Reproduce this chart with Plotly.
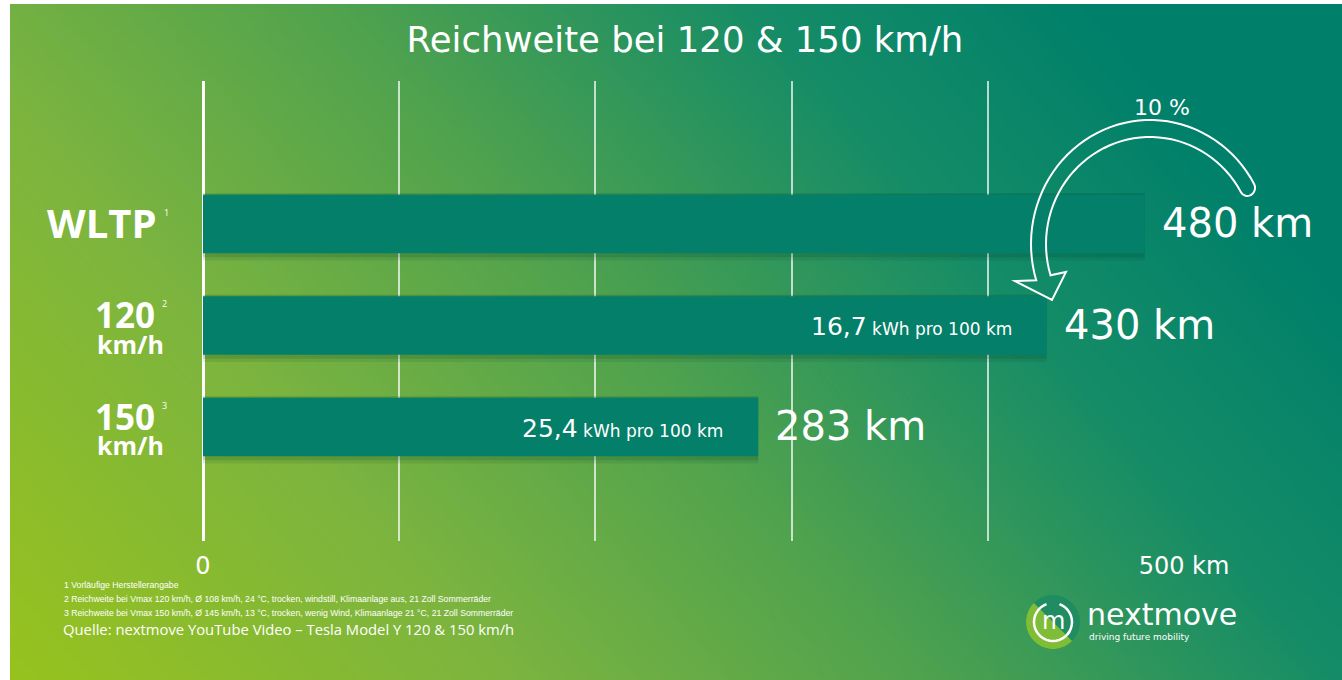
import math, zlib, struct, base64
import plotly.graph_objects as go

# ---------------- data ----------------
categories = ["WLTP", "120", "150"]
range_km = [480, 430, 283]
consumption = [None, "16,7", "25,4"]
cat_sup = ["1", "2", "3"]
cat_sub = ["", "km/h", "km/h"]
x_ticks = [0, 500]
x_ticktext = ["0", "500 km"]
x_grid = [100, 200, 300, 400]
title_text = "Reichweite bei 120 &amp; 150 km/h"
drop_label = "10 %"
footnotes = [
    "1 Vorläufige Herstellerangabe",
    "2 Reichweite bei Vmax 120 km/h, Ø 108 km/h, 24 °C, trocken, windstill, Klimaanlage aus, 21 Zoll Sommerräder",
    "3 Reichweite bei Vmax 150 km/h, Ø 145 km/h, 13 °C, trocken, wenig Wind, Klimaanlage 21 °C, 21 Zoll Sommerräder",
]
source_text = "Quelle: nextmove YouTube Video – Tesla Model Y 120 &amp; 150 km/h"

W, H = 1342, 680
FONT = "DejaVu Sans"
BAR = "#047f69"
GRID = "rgba(255,255,255,0.7)"


def px(x):
    return x / W


def py(y):
    return 1 - y / H


# ---------------- background gradient PNG ----------------
stops = [(0.0, (0x97, 0xc2, 0x1e)), (0.3, (0x7c, 0xb4, 0x3f)), (0.55, (0x4f, 0xa2, 0x4e)),
         (0.8, (0x15, 0x8c, 0x67)), (1.0, (0x00, 0x80, 0x6a))]


def grad(t):
    t = max(0.0, min(1.0, t))
    for (t0, c0), (t1, c1) in zip(stops[:-1], stops[1:]):
        if t <= t1:
            f = (t - t0) / (t1 - t0)
            return tuple(int(round(a + (b - a) * f)) for a, b in zip(c0, c1))
    return stops[-1][1]


gw, gh = 334, 170
rows = []
for j in range(gh):
    row = bytearray([0])
    for i in range(gw):
        t = 0.8 * (i / (gw - 1)) + 0.35 * (1 - j / (gh - 1))
        row.extend(grad(t))
    rows.append(bytes(row))


def chunk(tag, data):
    c = struct.pack(">I", len(data)) + tag + data
    return c + struct.pack(">I", zlib.crc32(tag + data) & 0xffffffff)


png = (b"\x89PNG\r\n\x1a\n" + chunk(b"IHDR", struct.pack(">IIBBBBB", gw, gh, 8, 2, 0, 0, 0))
       + chunk(b"IDAT", zlib.compress(b"".join(rows), 9)) + chunk(b"IEND", b""))
bg_uri = "data:image/png;base64," + base64.b64encode(png).decode()

# ---------------- figure ----------------
fig = go.Figure()
bw = 0.577
for ext, alpha in [(0.09, 0.10), (0.05, 0.14)]:
    fig.add_trace(go.Bar(x=range_km, y=categories, orientation="h", width=bw + ext,
                         offset=-bw / 2 - ext * 0.2, marker=dict(color=f"rgba(0,55,35,{alpha})", line=dict(width=0)),
                         hoverinfo="skip", showlegend=False))
fig.add_trace(go.Bar(x=range_km, y=categories, orientation="h", width=bw,
                     marker=dict(color=BAR, line=dict(width=0)), showlegend=False))

ann = []
# value labels (y given as category index on the category axis)
for i, v in enumerate(range_km):
    ann.append(dict(x=v, y=i, xref="x", yref="y", xanchor="left", yanchor="middle", xshift=15, yshift=1,
                    text=f"{v} km", showarrow=False, font=dict(family=FONT, size=40, color="white")))
# consumption labels inside bars
for i, (v, cons) in enumerate(zip(range_km, consumption)):
    if cons:
        ann.append(dict(x=v, y=i, xref="x", yref="y", xanchor="right", yanchor="middle", xshift=-33, yshift=-1,
                        text=f"<span style='font-size:25px'>{cons}</span> kWh pro 100 km", showarrow=False,
                        font=dict(family=FONT, size=17, color="white")))
# category labels
for i, (c, sup, sub) in enumerate(zip(categories, cat_sup, cat_sub)):
    if sub:
        ann.append(dict(x=px(157), y=i, xref="paper", yref="y", xanchor="right", yanchor="middle", yshift=11,
                        text=f"<b>{c}</b>", showarrow=False, font=dict(family="Open Sans", size=35, color="white")))
        ann.append(dict(x=px(166), y=i, xref="paper", yref="y", xanchor="right", yanchor="middle", yshift=-18,
                        text=f"<b>{sub}</b>", showarrow=False, font=dict(family="Open Sans", size=25, color="white")))
        ann.append(dict(x=px(160), y=i, xref="paper", yref="y", xanchor="left", yanchor="middle", yshift=22,
                        text=sup, showarrow=False, font=dict(family="Open Sans", size=9, color="white")))
    else:
        ann.append(dict(x=px(159), y=i, xref="paper", yref="y", xanchor="right", yanchor="middle", yshift=2,
                        text=f"<b>{c}</b>", showarrow=False, font=dict(family="Open Sans", size=40, color="white")))
        ann.append(dict(x=px(162), y=i, xref="paper", yref="y", xanchor="left", yanchor="middle", yshift=12,
                        text=sup, showarrow=False, font=dict(family="Open Sans", size=9, color="white")))
# percent label
ann.append(dict(x=px(1162), y=py(107), xref="paper", yref="paper", xanchor="center", yanchor="middle",
                text=drop_label, showarrow=False, font=dict(family=FONT, size=22, color="white")))
# footnotes
for k, fn in enumerate(footnotes):
    ann.append(dict(x=px(62), y=py(585 + k * 14), xref="paper", yref="paper", xanchor="left", yanchor="middle",
                    text=fn, showarrow=False, font=dict(family="Liberation Sans", size=8.7, color="white")))
ann.append(dict(x=px(61), y=py(629), xref="paper", yref="paper", xanchor="left", yanchor="middle",
                text=source_text, showarrow=False, font=dict(family="Open Sans", size=14.8, color="white")))
# logo text
ann.append(dict(x=px(1085), y=py(614), xref="paper", yref="paper", xanchor="left", yanchor="middle",
                text="nextmove", showarrow=False, font=dict(family=FONT, size=30, color="white")))
ann.append(dict(x=px(1087), y=py(637), xref="paper", yref="paper", xanchor="left", yanchor="middle",
                text="driving future mobility", showarrow=False, font=dict(family=FONT, size=9, color="white")))
ann.append(dict(x=px(1053), y=py(621), xref="paper", yref="paper", xanchor="center", yanchor="middle",
                text="m", showarrow=False, font=dict(family=FONT, size=24, color="white")))

# ---------------- arc arrow (decoration, elliptical band) ----------------
cx, cy = 1150, 244
ROx, ROy, RIx, RIy = 119, 124, 104, 107
a0, a1 = 29, 197


def ell(rx, ry, a):
    t = math.radians(a)
    return cx + rx * math.cos(t), cy - ry * math.sin(t)


pts = [ell(ROx, ROy, a0 + (a1 - a0) * k / 48) for k in range(49)]
pts += [(1015, 281), (1052, 300), (1066, 272)]
pts += [ell(RIx, RIy, a1 - (a1 - a0) * k / 48) for k in range(49)]
po, pi = ell(ROx, ROy, a0), ell(RIx, RIy, a0)
mx, my = (po[0] + pi[0]) / 2, (po[1] + pi[1]) / 2
rc = math.hypot(pi[0] - mx, pi[1] - my)
ux, uy = (pi[0] - mx) / rc, (pi[1] - my) / rc
t0 = math.radians(a0)
vx, vy = 112 * math.sin(t0), 115 * math.cos(t0)
vn = math.hypot(vx, vy)
vx, vy = vx / vn, vy / vn
for k in range(1, 12):
    phi = math.pi * k / 12
    pts.append((mx + rc * (ux * math.cos(phi) + vx * math.sin(phi)),
                my + rc * (uy * math.cos(phi) + vy * math.sin(phi))))
path = "M " + " L ".join(f"{px(x):.5f},{py(y):.5f}" for x, y in pts) + " Z"

shapes = [dict(type="path", path=path, xref="paper", yref="paper", line=dict(color="white", width=2),
               fillcolor="rgba(0,0,0,0)", layer="above")]

# logo circle
lc, lr = (1053, 622), 27
shapes.append(dict(type="circle", xref="paper", yref="paper", x0=px(lc[0] - lr), x1=px(lc[0] + lr),
                   y0=py(lc[1] + lr), y1=py(lc[1] - lr), fillcolor="#1f8c62", line=dict(width=0), layer="above"))
half = [(lc[0] + lr * math.cos(math.radians(a)), lc[1] - lr * math.sin(math.radians(a))) for a in range(135, 316, 10)]
shapes.append(dict(type="path", xref="paper", yref="paper",
                   path="M " + " L ".join(f"{px(x):.5f},{py(y):.5f}" for x, y in half) + " Z",
                   fillcolor="rgba(160,205,40,0.75)", line=dict(width=0), layer="above"))
for s, e in [(110, 330), (-40, 70)]:
    arc = [(lc[0] + 19 * math.cos(math.radians(a)), lc[1] - 19 * math.sin(math.radians(a))) for a in range(s, e + 1, 10)]
    shapes.append(dict(type="path", xref="paper", yref="paper",
                       path="M " + " L ".join(f"{px(x):.5f},{py(y):.5f}" for x, y in arc),
                       line=dict(color="white", width=2.5), layer="above"))

fig.update_layout(
    width=W, height=H, autosize=False,
    margin=dict(l=0, r=0, t=0, b=0, pad=0),
    paper_bgcolor="white", plot_bgcolor="rgba(0,0,0,0)",
    barmode="overlay", showlegend=False,
    title=dict(text=title_text, x=px(685), y=py(40), xanchor="center", yanchor="middle",
               font=dict(family=FONT, size=35.5, color="white")),
    xaxis=dict(domain=[px(203), px(1184)], range=[0, 500], tickvals=x_ticks, ticktext=x_ticktext,
               automargin=False,
               showgrid=True, gridcolor=GRID, gridwidth=2,
               minor=dict(tickvals=x_grid, showgrid=True, gridcolor=GRID, gridwidth=2, ticks=""),
               zeroline=True, zerolinecolor="white", zerolinewidth=3, showline=False, ticks="",
               ticklabelstandoff=8, tickfont=dict(family=FONT, size=24, color="white"), fixedrange=True),
    yaxis=dict(domain=[py(541), py(81)], type="category", categoryorder="array", categoryarray=categories,
               automargin=False,
               range=[3.123, -1.409], showgrid=False, zeroline=False, showticklabels=False, fixedrange=True),
    annotations=ann, shapes=shapes,
    images=[dict(source=bg_uri, xref="paper", yref="paper", x=px(10), y=py(4), sizex=1332 / W, sizey=676 / H,
                 xanchor="left", yanchor="top", sizing="stretch", layer="below")],
)

fig.write_html("out.html", config={"responsive": False, "displayModeBar": False},
               post_script="document.body.style.margin='0';document.body.style.overflow='hidden';")
